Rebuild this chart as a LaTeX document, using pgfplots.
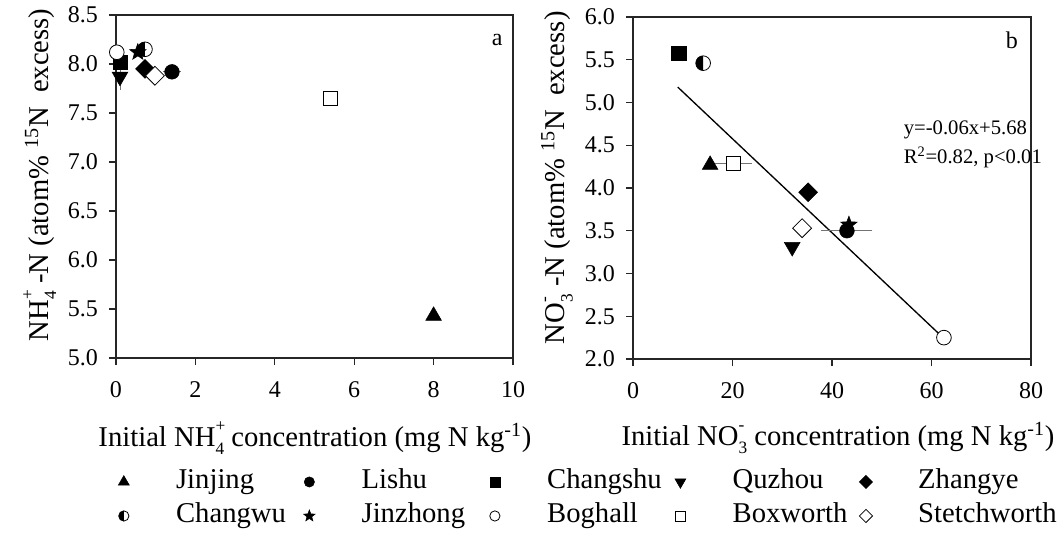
\documentclass[border=0pt]{standalone}
\usepackage{fontspec}
\setmainfont{Liberation Serif}
\usepackage{pgfplots}
\pgfplotsset{compat=1.18}
\usetikzlibrary{plotmarks}
\newcommand{\fsz}{\fontsize{21.5}{25}\selectfont}
\newcommand{\tsz}{\fontsize{18}{21}\selectfont}
\newcommand{\esz}{\fontsize{15.5}{18}\selectfont}
\newcommand{\ssz}{\fontsize{13}{13}\selectfont}
\newcommand{\supsub}[2]{\rlap{\raisebox{0.52em}{\ssz #1}}\raisebox{-0.28em}{\ssz #2}}

\pgfdeclareplotmark{halfcirc}{%
  \pgfpathcircle{\pgfpointorigin}{\pgfplotmarksize}%
  \pgfusepathqfillstroke
  \pgfpathmoveto{\pgfqpoint{0pt}{\pgfplotmarksize}}%
  \pgfpatharc{90}{270}{\pgfplotmarksize}%
  \pgfpathclose
  \pgfsetfillcolor{black}%
  \pgfusepathqfill
}
\pgfdeclareplotmark{fstar}{%
  \pgfpathmoveto{\pgfpointpolar{90}{\pgfplotmarksize}}%
  \pgfpathlineto{\pgfpointpolar{126}{0.42\pgfplotmarksize}}%
  \pgfpathlineto{\pgfpointpolar{162}{\pgfplotmarksize}}%
  \pgfpathlineto{\pgfpointpolar{198}{0.42\pgfplotmarksize}}%
  \pgfpathlineto{\pgfpointpolar{234}{\pgfplotmarksize}}%
  \pgfpathlineto{\pgfpointpolar{270}{0.42\pgfplotmarksize}}%
  \pgfpathlineto{\pgfpointpolar{306}{\pgfplotmarksize}}%
  \pgfpathlineto{\pgfpointpolar{342}{0.42\pgfplotmarksize}}%
  \pgfpathlineto{\pgfpointpolar{18}{\pgfplotmarksize}}%
  \pgfpathlineto{\pgfpointpolar{54}{0.42\pgfplotmarksize}}%
  \pgfpathclose
  \pgfusepathqfillstroke
}

\pgfplotsset{
  site/.style={only marks, black,
    legend image code/.code={\path (0pt,0pt) (45pt,0pt); \draw[##1, every mark/.append style={scale=0.7}] plot coordinates {(8pt,0pt)};},
    error bars/error bar style={black!55, line width=0.7pt},
    error bars/error mark options={black!55, line width=0.7pt, mark size=3.5pt}},
  jinjing/.style={site, mark=triangle*, mark size=6.8pt, mark options={solid, draw=black, fill=black}},
  lishu/.style={site, mark=*, mark size=5.5pt, mark options={solid, draw=black, fill=black}},
  changshu/.style={site, mark=square*, mark size=5.3pt, mark options={solid, draw=black, fill=black}},
  quzhou/.style={site, mark=triangle*, mark size=6.8pt, mark options={solid, draw=black, fill=black, rotate=180}},
  zhangye/.style={site, mark=square*, mark size=5pt, mark options={solid, draw=black, fill=black, rotate=45}},
  changwu/.style={site, mark=halfcirc, mark size=5.5pt, mark options={solid, draw=black, fill=white, line width=0.6pt}},
  jinzhong/.style={site, mark=fstar, mark size=6.5pt, mark options={solid, draw=black, fill=black}},
  boghall/.style={site, mark=*, mark size=5.5pt, mark options={solid, draw=black, fill=white, line width=0.6pt}},
  boxworth/.style={site, mark=square*, mark size=5.3pt, mark options={solid, draw=black, fill=white, line width=0.6pt}},
  stetch/.style={site, mark=square*, mark size=5pt, mark options={solid, draw=black, fill=white, rotate=45, line width=0.6pt}},
  common/.style={scale only axis, clip=false,
    axis line style={line width=0.8pt, black!85},
    tick style={line width=0.8pt, black!85},
    tick align=outside, major tick length=5pt,
    xtick pos=left, ytick pos=left,
    tick label style={font=\tsz},
    label style={font=\fsz},
    /pgf/number format/assume math mode=true,
    x tick label style={yshift=-9pt},
    y tick label style={xshift=-5pt, /pgf/number format/.cd, fixed, fixed zerofill, precision=1, /tikz/.cd},
  },
}

\begin{document}
\begin{tikzpicture}
\path[use as bounding box] (0,0) rectangle (795.75pt,399.75pt);

% Panel a
\begin{axis}[common,
  at={(87pt,131.25pt)}, anchor=south west,
  width=297.75pt, height=257.25pt,
  xmin=0, xmax=10, ymin=5.0, ymax=8.5,
  xtick={0,2,4,6,8,10}, ytick={5.0,5.5,6.0,6.5,7.0,7.5,8.0,8.5},
  xlabel={Initial NH\supsub{+}{4}\ concentration (mg N kg\textsuperscript{-1})},
  ylabel={NH\supsub{+}{4}\ -N (atom\% \textsuperscript{15}N\ \ excess)},
  xlabel style={at={(axis description cs:0.501,-0.233)}, anchor=center},
  ylabel style={at={(axis description cs:-0.192,0.534)}, anchor=center},
  legend style={at={(axis description cs:1.1605,-0.411)}, anchor=center, draw=none, fill=none,
    font=\fsz, row sep=2pt, inner sep=0pt,
    nodes={inner sep=2pt, text height=15pt, text depth=4.5pt, text width=89.75pt, align=left},
    /tikz/every even column/.append style={column sep=0pt}},
  legend columns=5, legend cell align=left,
]
\addplot[jinjing] coordinates {(8.0,5.43)};
\addlegendentry{\mbox{Jinjing}}
\addplot[lishu, error bars/.cd, x dir=both, x explicit, y dir=both, y explicit] coordinates {(1.41,7.92) +- (0.1,0.03)};
\addlegendentry{\mbox{Lishu}}
\addplot[changshu] coordinates {(0.1,8.02)};
\addlegendentry{\mbox{Changshu}}
\addplot[quzhou, error bars/.cd, y dir=both, y explicit] coordinates {(0.1,7.87) +- (0,0.09)};
\addlegendentry{\mbox{Quzhou}}
\addplot[zhangye] coordinates {(0.73,7.95)};
\addlegendentry{\mbox{Zhangye}}
\addplot[changwu] coordinates {(0.73,8.15)};
\addlegendentry{\mbox{Changwu}}
\addplot[jinzhong] coordinates {(0.55,8.12)};
\addlegendentry{\mbox{Jinzhong}}
\addplot[boghall] coordinates {(0.02,8.12)};
\addlegendentry{\mbox{Boghall}}
\addplot[boxworth] coordinates {(5.4,7.65)};
\addlegendentry{\mbox{Boxworth}}
\addplot[stetch] coordinates {(0.98,7.88)};
\addlegendentry{\mbox{Stetchworth}}
\node[font=\tsz] at (rel axis cs:0.96,0.927) {a};
\end{axis}

% Panel b
\begin{axis}[common,
  at={(474.75pt,130.5pt)}, anchor=south west,
  width=298.5pt, height=256.5pt,
  xmin=0, xmax=80, ymin=2.0, ymax=6.0,
  xtick={0,20,40,60,80}, ytick={2.0,2.5,3.0,3.5,4.0,4.5,5.0,5.5,6.0},
  xlabel={Initial NO\supsub{-}{3}\ concentration (mg N kg\textsuperscript{-1})},
  ylabel={NO\supsub{-}{3}\ -N (atom\% \textsuperscript{15}N\ \ excess)},
  xlabel style={at={(axis description cs:0.515,-0.231)}, anchor=center},
  ylabel style={at={(axis description cs:-0.191,0.53)}, anchor=center},
]
\addplot[black, line width=1pt, forget plot] coordinates {(9.0,5.18) (62.5,2.24)};
\addplot[jinjing, forget plot] coordinates {(15.5,4.27)};
\addplot[lishu, forget plot, error bars/.cd, x dir=both, x explicit] coordinates {(43.0,3.50) +- (4.2,0)};
\addplot[changshu, forget plot] coordinates {(9.2,5.58)};
\addplot[quzhou, forget plot] coordinates {(32.0,3.31)};
\addplot[zhangye, forget plot] coordinates {(35.2,3.95)};
\addplot[changwu, forget plot] coordinates {(14.1,5.46)};
\addplot[jinzhong, forget plot] coordinates {(43.4,3.57)};
\addplot[boghall, forget plot] coordinates {(62.5,2.25)};
\addplot[boxworth, forget plot, error bars/.cd, x dir=both, x explicit] coordinates {(20.1,4.29) +- (2.8,0)};
\addplot[stetch, forget plot] coordinates {(34.0,3.53)};
\node[font=\tsz] at (rel axis cs:0.952,0.933) {b};
\node[font=\esz, anchor=west] at (axis cs:53.5,4.68) {y=-0.06x+5.68};
\node[font=\esz, anchor=west] at (axis cs:53.5,4.36) {R\textsuperscript{2}=0.82, p<0.01};
\end{axis}
\end{tikzpicture}
\end{document}
